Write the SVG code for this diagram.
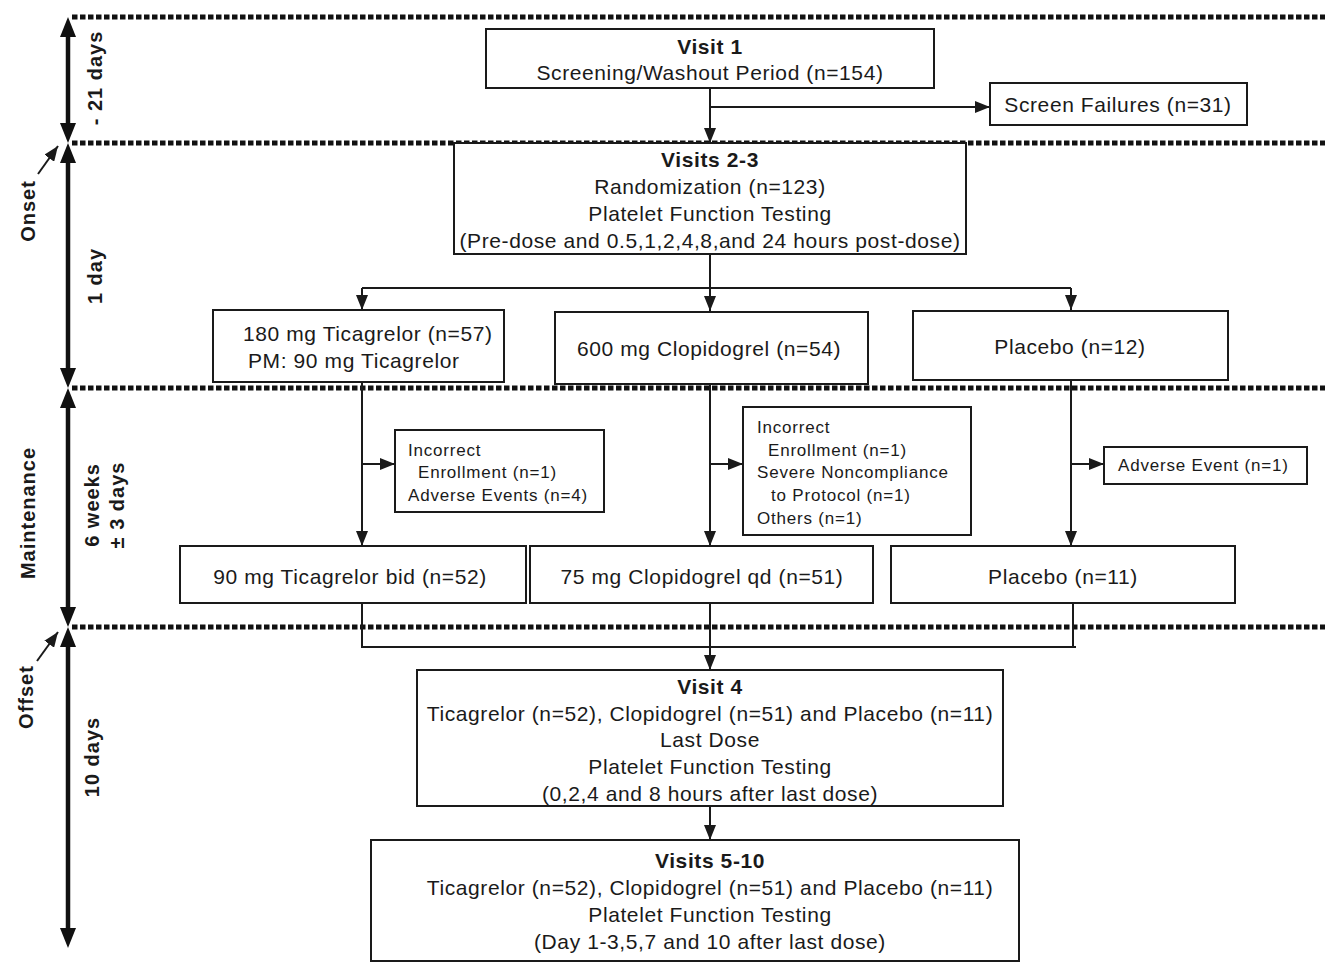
<svg xmlns="http://www.w3.org/2000/svg" width="1325" height="971" viewBox="0 0 1325 971">
<defs>
<style>
text{font-family:"Liberation Sans",Arial,sans-serif;fill:#1a1a1a}
.t{font-size:21px;letter-spacing:0.6px;text-anchor:middle}
.b{font-weight:bold}
.s{font-size:17px;letter-spacing:0.8px}
.ax{font-size:20px;font-weight:bold;letter-spacing:1px;text-anchor:middle}
.box{fill:#fff;stroke:#1a1a1a;stroke-width:2}
.dot{stroke:#111;stroke-width:5;stroke-dasharray:5.5 2.5;fill:none}
.c{stroke:#1a1a1a;stroke-width:2;fill:none}
.ca{stroke:#1a1a1a;stroke-width:2;fill:none;marker-end:url(#ah)}
.axl{stroke:#111;stroke-width:4.5;fill:none;marker-start:url(#ax);marker-end:url(#ax)}
</style>
<marker id="ah" markerUnits="userSpaceOnUse" markerWidth="15" markerHeight="12" refX="15" refY="6" orient="auto"><path d="M0,0 L15,6 L0,12 z" fill="#1a1a1a"/></marker>
<marker id="ax" markerUnits="userSpaceOnUse" markerWidth="20" markerHeight="16" refX="10" refY="8" orient="auto-start-reverse"><path d="M0,0 L20,8 L0,16 z" fill="#111"/></marker>
</defs>
<rect width="1325" height="971" fill="#fff"/>

<g id="timeline">
<line class="dot" x1="72" y1="17" x2="1325" y2="17"/>
<line class="dot" x1="72" y1="143" x2="1325" y2="143"/>
<line class="dot" x1="72" y1="388" x2="1325" y2="388"/>
<line class="dot" x1="72" y1="627" x2="1325" y2="627"/>
<line class="axl" x1="68" y1="27" x2="68" y2="133"/>
<line class="axl" x1="68" y1="153" x2="68" y2="378"/>
<line class="axl" x1="68" y1="398" x2="68" y2="617"/>
<line class="axl" x1="68" y1="637" x2="68" y2="938"/>
<line class="ca" x1="38" y1="174" x2="58" y2="146"/>
<line class="ca" x1="37" y1="661" x2="58" y2="632"/>
<text class="ax" transform="translate(102 78) rotate(-90)">- 21 days</text>
<text class="ax" transform="translate(102 276) rotate(-90)">1 day</text>
<text class="ax" transform="translate(99 505) rotate(-90)">6 weeks</text>
<text class="ax" transform="translate(124 505) rotate(-90)">± 3 days</text>
<text class="ax" transform="translate(99 757) rotate(-90)">10 days</text>
<text class="ax" transform="translate(35 211) rotate(-90)">Onset</text>
<text class="ax" transform="translate(35 513) rotate(-90)">Maintenance</text>
<text class="ax" transform="translate(33 697) rotate(-90)">Offset</text>
</g>

<g id="connectors">
<line class="ca" x1="710" y1="88" x2="710" y2="143"/>
<line class="ca" x1="710" y1="107" x2="990" y2="107"/>
<line class="ca" x1="710" y1="254" x2="710" y2="311"/>
<line class="c" x1="362" y1="288" x2="1071" y2="288"/>
<line class="ca" x1="362" y1="288" x2="362" y2="310"/>
<line class="ca" x1="1071" y1="288" x2="1071" y2="310"/>
<line class="ca" x1="362" y1="382" x2="362" y2="546"/>
<line class="ca" x1="362" y1="464" x2="395" y2="464"/>
<line class="ca" x1="710" y1="384" x2="710" y2="546"/>
<line class="ca" x1="710" y1="464" x2="743" y2="464"/>
<line class="ca" x1="1071" y1="380" x2="1071" y2="546"/>
<line class="ca" x1="1071" y1="464" x2="1104" y2="464"/>
<polyline class="c" points="362,603 362,647 1076,647"/>
<line class="c" x1="1073" y1="603" x2="1073" y2="647"/>
<line class="ca" x1="710" y1="603" x2="710" y2="670"/>
<line class="ca" x1="710" y1="806" x2="710" y2="840"/>
</g>

<g id="visit1">
<rect class="box" x="486" y="29" width="448" height="59"/>
<text class="t b" x="710" y="54">Visit 1</text>
<text class="t" x="710" y="80">Screening/Washout Period (n=154)</text>
</g>
<g id="screen-failures">
<rect class="box" x="990" y="83" width="257" height="42"/>
<text class="t" x="1118" y="112">Screen Failures (n=31)</text>
</g>
<g id="visits2-3">
<rect class="box" x="454" y="143" width="512" height="111"/>
<text class="t b" x="710" y="167">Visits 2-3</text>
<text class="t" x="710" y="194">Randomization (n=123)</text>
<text class="t" x="710" y="221">Platelet Function Testing</text>
<text class="t" x="710" y="248">(Pre-dose and 0.5,1,2,4,8,and 24 hours post-dose)</text>
</g>
<g id="tica-load">
<rect class="box" x="213" y="310" width="291" height="72"/>
<text class="t" x="243" y="341" style="text-anchor:start">180 mg Ticagrelor (n=57)</text>
<text class="t" x="248" y="368" style="text-anchor:start">PM: 90 mg Ticagrelor</text>
</g>
<g id="clopi-load">
<rect class="box" x="555" y="312" width="313" height="72"/>
<text class="t" x="709" y="356">600 mg Clopidogrel (n=54)</text>
</g>
<g id="placebo-load">
<rect class="box" x="913" y="311" width="315" height="69"/>
<text class="t" x="1070" y="354">Placebo (n=12)</text>
</g>
<g id="excl-tica">
<rect class="box" x="395" y="430" width="209" height="82"/>
<text class="s" x="408" y="456">Incorrect</text>
<text class="s" x="418" y="478">Enrollment (n=1)</text>
<text class="s" x="408" y="501">Adverse Events (n=4)</text>
</g>
<g id="excl-clopi">
<rect class="box" x="743" y="407" width="228" height="128"/>
<text class="s" x="757" y="433">Incorrect</text>
<text class="s" x="768" y="456">Enrollment (n=1)</text>
<text class="s" x="757" y="478">Severe Noncompliance</text>
<text class="s" x="771" y="501">to Protocol (n=1)</text>
<text class="s" x="757" y="524">Others (n=1)</text>
</g>
<g id="excl-placebo">
<rect class="box" x="1104" y="447" width="203" height="37"/>
<text class="s" x="1118" y="471">Adverse Event (n=1)</text>
</g>
<g id="tica-maint">
<rect class="box" x="180" y="546" width="346" height="57"/>
<text class="t" x="350" y="584">90 mg Ticagrelor bid (n=52)</text>
</g>
<g id="clopi-maint">
<rect class="box" x="530" y="546" width="343" height="57"/>
<text class="t" x="702" y="584">75 mg Clopidogrel qd (n=51)</text>
</g>
<g id="placebo-maint">
<rect class="box" x="891" y="546" width="344" height="57"/>
<text class="t" x="1063" y="584">Placebo (n=11)</text>
</g>
<g id="visit4">
<rect class="box" x="417" y="670" width="586" height="136"/>
<text class="t b" x="710" y="694">Visit 4</text>
<text class="t" x="710" y="721">Ticagrelor (n=52), Clopidogrel (n=51) and Placebo (n=11)</text>
<text class="t" x="710" y="747">Last Dose</text>
<text class="t" x="710" y="774">Platelet Function Testing</text>
<text class="t" x="710" y="801">(0,2,4 and 8 hours after last dose)</text>
</g>
<g id="visits5-10">
<rect class="box" x="371" y="840" width="648" height="121"/>
<text class="t b" x="710" y="868">Visits 5-10</text>
<text class="t" x="710" y="895">Ticagrelor (n=52), Clopidogrel (n=51) and Placebo (n=11)</text>
<text class="t" x="710" y="922">Platelet Function Testing</text>
<text class="t" x="710" y="949">(Day 1-3,5,7 and 10 after last dose)</text>
</g>
</svg>
